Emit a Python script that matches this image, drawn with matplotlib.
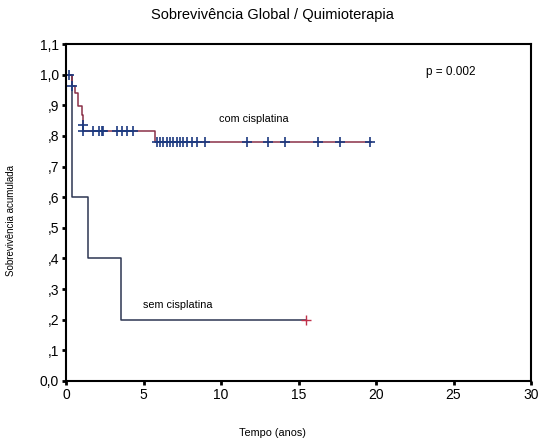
import matplotlib.pyplot as plt

plt.rcParams['font.family'] = ['Liberation Sans', 'DejaVu Sans']

# com cisplatina: step times and survival levels
com_t = [0.0, 0.37, 0.58, 0.80, 1.00, 1.12, 5.74, 19.7]
com_s = [1.0, 0.962, 0.94, 0.896, 0.869, 0.815, 0.779, 0.779]
# censor marks (time, survival)
com_cens_t = [0.2, 0.37, 1.12, 1.12, 1.76, 2.15, 2.30, 2.41, 3.27, 3.59, 3.95, 4.34,
              5.85, 6.06, 6.28, 6.50, 6.71, 6.92, 7.14, 7.35, 7.57, 7.79, 8.11,
              8.43, 8.97, 11.66, 13.05, 14.13, 16.28, 17.68, 19.61]
com_cens_s = [1.0, 0.962, 0.837, 0.815, 0.815, 0.815, 0.815, 0.815, 0.815, 0.815, 0.815, 0.815,
              0.779, 0.779, 0.779, 0.779, 0.779, 0.779, 0.779, 0.779, 0.779, 0.779, 0.779,
              0.779, 0.779, 0.779, 0.779, 0.779, 0.779, 0.779, 0.779]

# sem cisplatina
sem_t = [0.0, 0.37, 1.44, 3.55, 15.5]
sem_s = [1.0, 0.6, 0.4, 0.2, 0.2]
sem_cens_t = [15.5]
sem_cens_s = [0.2]

yticks = [0.0, 0.1, 0.2, 0.3, 0.4, 0.5, 0.6, 0.7, 0.8, 0.9, 1.0, 1.1]
ylabels = ['0,0', ',1', ',2', ',3', ',4', ',5', ',6', ',7', ',8', ',9', '1,0', '1,1']
xticks = [0, 5, 10, 15, 20, 25, 30]

fig = plt.figure(figsize=(5.44, 4.42), dpi=100)
ax = fig.add_axes([66/544, 61/442, 465/544, 337/442])

ax.step(sem_t, sem_s, where='post', color='#2c3552', linewidth=1.1)
ax.plot(sem_cens_t, sem_cens_s, '+', color='#c0304a', markersize=7, markeredgewidth=1)

ax.step(com_t, com_s, where='post', color='#8a3048', linewidth=1.1)
ax.plot(com_cens_t, com_cens_s, '+', color='#1c3a80', markersize=7, markeredgewidth=1.2)

ax.set_xlim(0, 30)
ax.set_ylim(0, 1.1)
ax.set_xticks(xticks)
ax.set_xticklabels([str(x) for x in xticks], fontsize=10)
ax.set_yticks(yticks)
ax.set_yticklabels(ylabels, fontsize=10)
ax.tick_params(direction='out', length=3, width=2, pad=2)
for s in ax.spines.values():
    s.set_linewidth(1.5)

ax.text(9.9, 0.856, 'com cisplatina', fontsize=7.8, va='center')
ax.text(4.95, 0.248, 'sem cisplatina', fontsize=7.8, va='center')
ax.text(0.88, 0.917, 'p = 0.002', transform=ax.transAxes, ha='right', va='center', fontsize=8.5)

fig.text(0.5, 0.967, 'Sobrevivência Global / Quimioterapia', ha='center', va='center', fontsize=10.5)
fig.text(0.5, 0.02, 'Tempo (anos)', ha='center', va='center', fontsize=7.8)
fig.text(0.02, 0.50, 'Sobrevivência acumulada', rotation=90, ha='center', va='center', fontsize=7)

fig.savefig('out.png', dpi=100)
